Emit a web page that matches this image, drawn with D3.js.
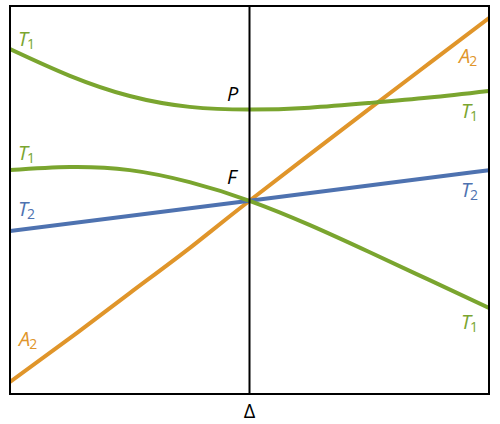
<!DOCTYPE html>
<html>
<head>
<meta charset="utf-8">
<script src="https://cdn.jsdelivr.net/npm/d3@7"></script>
<style>
  body { margin: 0; background: #fff; }
  text { font-family: "Open Sans", sans-serif; }
</style>
</head>
<body>
<svg id="chart" width="500" height="424"></svg>
<script>
const width = 500;
const height = 424;

// detuning axis samples
const deltas = [-1, -0.75, -0.5, -0.25, 0, 0.25, 0.5, 0.75, 1];

// energy levels
const t1Upper = [8.89, 8.20, 7.68, 7.40, 7.33, 7.38, 7.50, 7.64, 7.81];
const t1Lower = [5.77, 5.85, 5.77, 5.46, 4.98, 4.36, 3.66, 2.94, 2.22];
const t2Deltas = [-1, 0, 1];
const t2Values = [4.20, 4.98, 5.77];
const a2Deltas = [-1, -0.75, -0.5, -0.25, 0, 0.5, 0.75, 1];
const a2Values = [0.31, 1.44, 2.60, 3.76, 4.98, 7.35, 8.52, 9.69];

const colors = { T1: "#7aa52f", T2: "#4e72b0", A2: "#e0952a" };

const svg = d3.select("#chart");

const x = d3.scaleLinear().domain([-1, 1]).range([10, 489]);
const y = d3.scaleLinear().domain([0, 10]).range([394, 6]);

const line = d3.line()
    .x(d => x(d[0]))
    .y(d => y(d[1]))
    .curve(d3.curveNatural);

const series = [
    { xs: a2Deltas, ys: a2Values, color: colors.A2 },
    { xs: t2Deltas, ys: t2Values, color: colors.T2 },
    { xs: deltas, ys: t1Lower, color: colors.T1 },
    { xs: deltas, ys: t1Upper, color: colors.T1 }
];

svg.append("clipPath").attr("id", "clip")
    .append("rect")
    .attr("x", x(-1)).attr("y", y(10))
    .attr("width", x(1) - x(-1)).attr("height", y(0) - y(10));

const g = svg.append("g").attr("clip-path", "url(#clip)");

g.selectAll("path.level")
  .data(series)
  .enter()
  .append("path")
  .attr("class", "level")
  .attr("d", s => line(s.xs.map((d, i) => [d, s.ys[i]])))
  .attr("fill", "none")
  .attr("stroke", s => s.color)
  .attr("stroke-width", 4);

// zero detuning line
svg.append("line")
    .attr("x1", x(0)).attr("x2", x(0))
    .attr("y1", y(10)).attr("y2", y(0))
    .attr("stroke", "#000")
    .attr("stroke-width", 2);

// frame
svg.append("rect")
    .attr("x", x(-1)).attr("y", y(10))
    .attr("width", x(1) - x(-1)).attr("height", y(0) - y(10))
    .attr("fill", "none")
    .attr("stroke", "#000")
    .attr("stroke-width", 2);

// labels
const labels = [
    { name: "T", sub: "1", px: 18, py: 46, color: colors.T1 },
    { name: "T", sub: "1", px: 18, py: 160, color: colors.T1 },
    { name: "T", sub: "2", px: 18, py: 216, color: colors.T2 },
    { name: "A", sub: "2", px: 19, py: 346, color: colors.A2 },
    { name: "A", sub: "2", px: 459, py: 63, color: colors.A2 },
    { name: "T", sub: "1", px: 461, py: 118, color: colors.T1 },
    { name: "T", sub: "2", px: 461, py: 197, color: colors.T2 },
    { name: "T", sub: "1", px: 461, py: 329, color: colors.T1 },
    { name: "P", sub: "", px: 227, py: 101, color: "#000" },
    { name: "F", sub: "", px: 227, py: 184, color: "#000" }
];

const lab = svg.selectAll(".label")
  .data(labels)
  .enter()
  .append("text")
  .attr("class", "label")
  .attr("x", d => d.px)
  .attr("y", d => d.py)
  .attr("fill", d => d.color)
  .attr("font-size", "20px")
  .attr("font-style", "italic");

lab.append("tspan").text(d => d.name);
lab.append("tspan")
  .attr("dy", 3)
  .attr("dx", -1)
  .attr("font-size", "14px")
  .attr("font-style", "normal")
  .text(d => d.sub);

svg.append("text")
    .attr("x", x(0))
    .attr("y", 418)
    .attr("text-anchor", "middle")
    .attr("font-size", "20px")
    .attr("fill", "#000")
    .text("Δ");
</script>
</body>
</html>
